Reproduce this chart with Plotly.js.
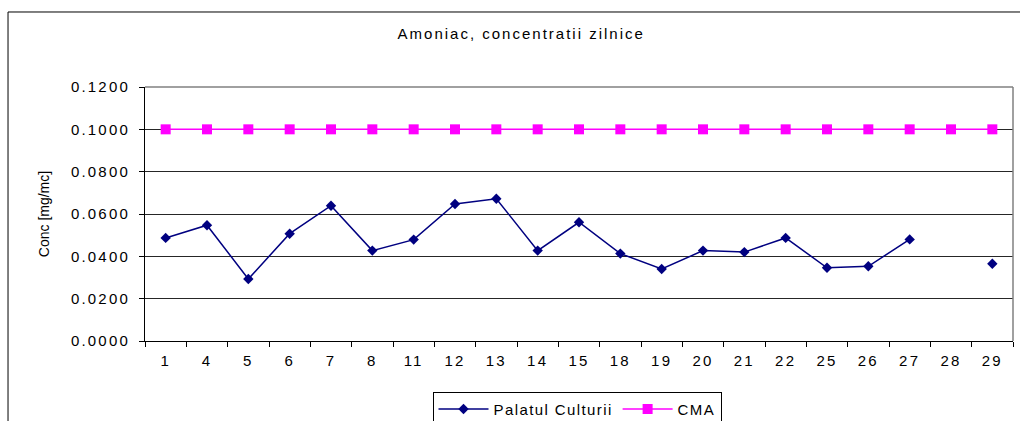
<!DOCTYPE html>
<html>
<head>
<meta charset="utf-8">
<script src="https://cdn.plot.ly/plotly-3.0.1.min.js"></script>
<style>
html, body { margin: 0; padding: 0; background: #fff; }
#chart { width: 1020px; height: 421px; }
.xtick text, .ytick text { letter-spacing: 2.2px; }
.gtitle { letter-spacing: 2px; }
.legendtext { letter-spacing: 1.4px; }
</style>
</head>
<body>
<div id="chart"></div>
<script>
var days = ["1","4","5","6","7","8","11","12","13","14","15","18","19","20","21","22","25","26","27","28","29"];
var palatulCulturii = [0.0487,0.0547,0.0293,0.0507,0.0639,0.0427,0.0479,0.0647,0.0672,0.0427,0.0561,0.0413,0.0340,0.0427,0.0420,0.0487,0.0346,0.0353,0.0480,null,0.0365];
var cma = [0.1,0.1,0.1,0.1,0.1,0.1,0.1,0.1,0.1,0.1,0.1,0.1,0.1,0.1,0.1,0.1,0.1,0.1,0.1,0.1,0.1];

var font = "'Liberation Sans', Arial, sans-serif";

var traces = [
  {
    x: days, y: palatulCulturii, name: "Palatul Culturii",
    type: "scatter", mode: "lines+markers", connectgaps: false,
    line: { color: "#000080", width: 1.5 },
    marker: { symbol: "diamond", size: 8, color: "#000080" }
  },
  {
    x: days, y: cma, name: "CMA",
    type: "scatter", mode: "lines+markers",
    line: { color: "#FF00FF", width: 1.5 },
    marker: { symbol: "square", size: 10, color: "#FF00FF" }
  }
];

var layout = {
  width: 1020, height: 421,
  margin: { l: 145, r: 7, t: 87, b: 80, autoexpand: false },
  paper_bgcolor: "#ffffff",
  plot_bgcolor: "#ffffff",
  font: { family: font, size: 15, color: "#000" },
  title: {
    text: "Amoniac, concentratii zilnice",
    font: { family: font, size: 15, color: "#000" },
    xref: "container", x: 0.511, xanchor: "center",
    yref: "container", y: 0.92, yanchor: "middle"
  },
  xaxis: {
    type: "category",
    tickson: "boundaries",
    ticks: "outside", ticklen: 5, tickcolor: "#000", tickwidth: 1,
    ticklabelstandoff: 6,
    showline: true, linecolor: "#000", linewidth: 1,
    showgrid: false, zeroline: false,
    tickfont: { family: font, size: 15, color: "#000" },
    range: [-0.5, 20.5]
  },
  yaxis: {
    range: [0, 0.12], dtick: 0.02, tick0: 0,
    tickformat: ".4f",
    ticks: "outside", ticklen: 5, tickcolor: "#000", tickwidth: 1,
    ticklabelstandoff: 6,
    showline: true, linecolor: "#000", linewidth: 1,
    showgrid: true, gridcolor: "#262626", gridwidth: 1,
    zeroline: false,
    tickfont: { family: font, size: 15, color: "#000" },
    title: { text: "Conc [mg/mc]", font: { family: font, size: 14, color: "#000" }, standoff: 18 }
  },
  showlegend: true,
  legend: {
    orientation: "h",
    x: 0.4977, xanchor: "center",
    y: -0.2, yanchor: "top",
    bordercolor: "#000", borderwidth: 1,
    bgcolor: "#fff",
    font: { family: font, size: 15, color: "#000" },
    itemwidth: 50, tracegroupgap: 0
  },
  shapes: [
    { type: "rect", xref: "paper", yref: "paper", x0: -0.1578, x1: 1.03, y0: -0.4, y1: 1.2953,
      line: { color: "#000", width: 1 }, fillcolor: "rgba(0,0,0,0)", layer: "below" },
    { type: "line", xref: "paper", yref: "paper", x0: 1, x1: 1, y0: 0, y1: 1,
      line: { color: "#808080", width: 1.5 } },
    { type: "line", xref: "paper", yref: "paper", x0: 0, x1: 1, y0: 1, y1: 1,
      line: { color: "#808080", width: 1.5 } }
  ]
};

Plotly.newPlot("chart", traces, layout, { displayModeBar: false, staticPlot: true });
</script>
</body>
</html>
